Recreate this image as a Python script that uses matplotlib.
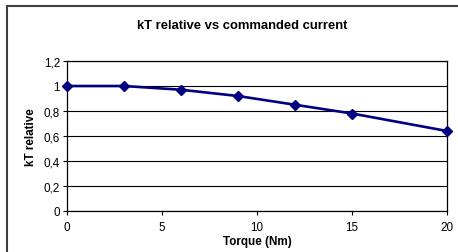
import matplotlib.pyplot as plt
from matplotlib.lines import Line2D

plt.rcParams['font.family'] = ['Liberation Sans', 'DejaVu Sans']

torque = [0, 3, 6, 9, 12, 15, 20]
kt_rel = [1.0, 1.0, 0.97, 0.92, 0.85, 0.78, 0.64]
navy = '#000080'

fig = plt.figure(figsize=(4.58, 2.53), dpi=100)
W, H = 458, 253
ax = fig.add_axes([67 / W, 1 - 212 / H, (447 - 67) / W, (212 - 62) / H])

# outer chart frame (only top and left visible)
fig.add_artist(Line2D([6.5 / W, 1], [1 - 6.5 / H, 1 - 6.5 / H], color='#404040', lw=1.5))
fig.add_artist(Line2D([6.5 / W, 6.5 / W], [0, 1 - 6.5 / H], color='#404040', lw=1.5))

ax.plot(torque, kt_rel, '-D', color=navy, lw=1.9, ms=5.5, clip_on=False, zorder=5)

ax.set_xlim(0, 20)
ax.set_ylim(0, 1.2)
ax.set_xticks([0, 5, 10, 15, 20])
ax.set_yticks([0, 0.2, 0.4, 0.6, 0.8, 1.0, 1.2])
ax.set_yticklabels(['0', '0,2', '0,4', '0,6', '0,8', '1', '1,2'])
ax.yaxis.grid(True, color='black', lw=0.8)
ax.set_axisbelow(True)
for s in ax.spines.values():
    s.set_color('black')
    s.set_linewidth(0.9)
ax.tick_params(labelsize=8.4, length=3, width=0.8, pad=2, colors='black')
ax.tick_params(axis='x', pad=4)

ax.set_xlabel('Torque (Nm)', fontsize=8.4, fontweight='bold', labelpad=2)
ax.set_ylabel('kT relative', fontsize=8.4, fontweight='bold', labelpad=5)
fig.text(242 / W, 1 - 26 / H, 'kT relative vs commanded current', ha='center', va='center',
         fontsize=9.4, fontweight='bold')

plt.savefig('out.png', dpi=100)
